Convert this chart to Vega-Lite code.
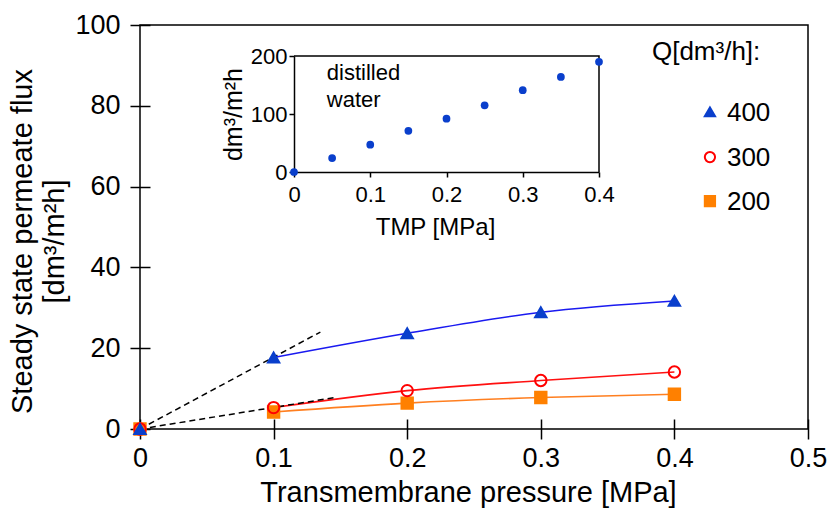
{
  "$schema": "https://vega.github.io/schema/vega-lite/v6.json",
  "width": 668,
  "height": 404,
  "autosize": {"type": "none"},
  "padding": {"left": 140, "top": 25, "right": 23, "bottom": 81},
  "config": {
    "font": "Liberation Sans",
    "view": {"stroke": "black", "strokeWidth": 1.5},
    "axis": {
      "labelColor": "black",
      "titleColor": "black",
      "tickColor": "black",
      "domainColor": "black",
      "titleFontWeight": "normal",
      "grid": false
    }
  },
  "datasets": {
    "flux": [
      {"Q": "200", "TMP": 0, "flux": 0},
      {"Q": "200", "TMP": 0.1, "flux": 4.2},
      {"Q": "200", "TMP": 0.2, "flux": 6.4},
      {"Q": "200", "TMP": 0.3, "flux": 7.8},
      {"Q": "200", "TMP": 0.4, "flux": 8.6},
      {"Q": "300", "TMP": 0, "flux": 0},
      {"Q": "300", "TMP": 0.1, "flux": 5.3},
      {"Q": "300", "TMP": 0.2, "flux": 9.5},
      {"Q": "300", "TMP": 0.3, "flux": 12.0},
      {"Q": "300", "TMP": 0.4, "flux": 14.1},
      {"Q": "400", "TMP": 0, "flux": 0},
      {"Q": "400", "TMP": 0.1, "flux": 17.7},
      {"Q": "400", "TMP": 0.2, "flux": 23.7},
      {"Q": "400", "TMP": 0.3, "flux": 28.9},
      {"Q": "400", "TMP": 0.4, "flux": 31.7}
    ],
    "tangent": [
      {"g": "a", "TMP": 0, "flux": 0},
      {"g": "a", "TMP": 0.135, "flux": 24.0},
      {"g": "b", "TMP": 0, "flux": 0},
      {"g": "b", "TMP": 0.146, "flux": 7.8}
    ],
    "water": [
      {"TMP": 0, "flux": 0},
      {"TMP": 0.05, "flux": 24},
      {"TMP": 0.1, "flux": 47},
      {"TMP": 0.15, "flux": 71},
      {"TMP": 0.2, "flux": 92},
      {"TMP": 0.25, "flux": 115},
      {"TMP": 0.3, "flux": 141},
      {"TMP": 0.35, "flux": 164},
      {"TMP": 0.4, "flux": 190}
    ],
    "frame": [
      {"k": 1, "TMP": 0, "flux": 200},
      {"k": 2, "TMP": 0.4, "flux": 200},
      {"k": 3, "TMP": 0.4, "flux": 0}
    ],
    "note": [{"TMP": 0.043, "flux": 159}],
    "key": [
      {"Q": "400", "TMP": 0.4266, "flux": 78.5},
      {"Q": "300", "TMP": 0.4266, "flux": 67.3},
      {"Q": "200", "TMP": 0.4266, "flux": 56.4}
    ],
    "keytitle": [{"TMP": 0.3832, "flux": 91.3}]
  },
  "layer": [
    {
      "data": {"name": "flux"},
      "transform": [{"filter": "datum.TMP > 0"}],
      "mark": {"type": "line", "interpolate": "monotone", "strokeWidth": 1.6},
      "encoding": {
        "x": {"field": "TMP", "type": "quantitative", "scale": {"domain": [0, 0.5], "nice": false, "zero": false}, "axis": null},
        "y": {"field": "flux", "type": "quantitative", "scale": {"domain": [0, 100], "nice": false, "zero": false}, "axis": null},
        "color": {
          "field": "Q", "type": "nominal",
          "scale": {"domain": ["400", "300", "200"], "range": ["#1a1af0", "#ff1010", "#ff7f20"]},
          "legend": null
        }
      }
    },
    {
      "data": {"name": "tangent"},
      "mark": {"type": "line", "color": "black", "strokeDash": [6, 4], "strokeWidth": 1.5},
      "encoding": {
        "x": {"field": "TMP", "type": "quantitative", "scale": {"domain": [0, 0.5], "nice": false, "zero": false}, "axis": null},
        "y": {"field": "flux", "type": "quantitative", "scale": {"domain": [0, 100], "nice": false, "zero": false}, "axis": null},
        "detail": {"field": "g", "type": "nominal"}
      }
    },
    {
      "data": {"name": "flux"},
      "mark": {"type": "point", "opacity": 1, "strokeWidth": 2, "size": 130},
      "encoding": {
        "x": {
          "field": "TMP", "type": "quantitative",
          "scale": {"domain": [0, 0.5], "nice": false, "zero": false},
          "axis": {
            "orient": "bottom", "values": [0, 0.1, 0.2, 0.3, 0.4, 0.5], "format": "~g",
            "domain": false, "offset": -10, "tickSize": 20, "tickWidth": 1.5,
            "labelFontSize": 27, "labelPadding": 6, "labelFlush": false,
            "title": "Transmembrane pressure [MPa]", "titleFontSize": 29, "titlePadding": 7, "titleX": 328
          }
        },
        "y": {
          "field": "flux", "type": "quantitative",
          "scale": {"domain": [0, 100], "nice": false, "zero": false},
          "axis": {
            "orient": "left", "values": [0, 20, 40, 60, 80, 100],
            "domain": false, "offset": -10, "tickSize": 20, "tickWidth": 1.5,
            "labelFontSize": 27, "labelPadding": 10, "labelFlush": false,
            "title": ["Steady state permeate flux", "[dm³/m²h]"], "titleFontSize": 29, "titleLineHeight": 32,
            "titlePadding": 5, "titleY": 216
          }
        },
        "shape": {
          "field": "Q", "type": "nominal",
          "scale": {"domain": ["400", "300", "200"], "range": ["triangle-up", "circle", "square"]},
          "legend": null
        },
        "fill": {
          "field": "Q", "type": "nominal",
          "scale": {"domain": ["400", "300", "200"], "range": ["#0a3fcc", "transparent", "#ff8000"]},
          "legend": null
        },
        "stroke": {
          "field": "Q", "type": "nominal",
          "scale": {"domain": ["400", "300", "200"], "range": ["#0a3fcc", "#ff0000", "#ff8000"]},
          "legend": null
        }
      }
    },
    {
      "data": {"name": "key"},
      "mark": {"type": "point", "opacity": 1, "strokeWidth": 2, "size": 105},
      "encoding": {
        "x": {"field": "TMP", "type": "quantitative", "scale": {"domain": [0, 0.5], "nice": false, "zero": false}, "axis": null},
        "y": {"field": "flux", "type": "quantitative", "scale": {"domain": [0, 100], "nice": false, "zero": false}, "axis": null},
        "shape": {"field": "Q", "type": "nominal", "legend": null},
        "fill": {"field": "Q", "type": "nominal", "legend": null},
        "stroke": {"field": "Q", "type": "nominal", "legend": null}
      }
    },
    {
      "data": {"name": "key"},
      "mark": {"type": "text", "align": "left", "baseline": "middle", "dx": 17, "dy": 1, "fontSize": 26, "color": "black"},
      "encoding": {
        "x": {"field": "TMP", "type": "quantitative", "scale": {"domain": [0, 0.5], "nice": false, "zero": false}, "axis": null},
        "y": {"field": "flux", "type": "quantitative", "scale": {"domain": [0, 100], "nice": false, "zero": false}, "axis": null},
        "text": {"field": "Q", "type": "nominal"}
      }
    },
    {
      "data": {"name": "keytitle"},
      "mark": {"type": "text", "text": "Q[dm³/h]:", "align": "left", "baseline": "alphabetic", "fontSize": 26, "color": "black"},
      "encoding": {
        "x": {"field": "TMP", "type": "quantitative", "scale": {"domain": [0, 0.5], "nice": false, "zero": false}, "axis": null},
        "y": {"field": "flux", "type": "quantitative", "scale": {"domain": [0, 100], "nice": false, "zero": false}, "axis": null}
      }
    },
    {
      "data": {"name": "frame"},
      "mark": {"type": "line", "color": "black", "strokeWidth": 1.5},
      "encoding": {
        "x": {
          "field": "TMP", "type": "quantitative",
          "scale": {"domain": [0, 0.4], "range": [154, 459], "nice": false, "zero": false},
          "axis": {
            "orient": "bottom", "offset": -257, "values": [0, 0.1, 0.2, 0.3, 0.4], "format": "~g",
            "domainWidth": 1.5, "tickSize": 5, "tickWidth": 1.5, "labelFontSize": 22, "labelPadding": 7,
            "labelFlush": false, "title": "TMP [MPa]", "titleFontSize": 24, "titlePadding": 10, "titleX": 295
          }
        },
        "y": {
          "field": "flux", "type": "quantitative",
          "scale": {"domain": [0, 200], "range": [147, 31], "nice": false, "zero": false},
          "axis": {
            "orient": "left", "offset": -154, "values": [0, 100, 200],
            "domainWidth": 1.5, "tickSize": 5, "tickWidth": 1.5, "labelFontSize": 22, "labelPadding": 2,
            "labelFlush": false, "title": "dm³/m²h", "titleFontSize": 25, "titlePadding": 4
          }
        },
        "order": {"field": "k", "type": "quantitative"}
      }
    },
    {
      "data": {"name": "water"},
      "mark": {"type": "circle", "color": "#0a3fcc", "opacity": 1, "size": 60},
      "encoding": {
        "x": {"field": "TMP", "type": "quantitative", "scale": {"domain": [0, 0.4], "range": [154, 459], "nice": false, "zero": false}, "axis": null},
        "y": {"field": "flux", "type": "quantitative", "scale": {"domain": [0, 200], "range": [147, 31], "nice": false, "zero": false}, "axis": null}
      }
    },
    {
      "data": {"name": "note"},
      "mark": {"type": "text", "text": ["distilled", "water"], "align": "left", "baseline": "alphabetic", "fontSize": 22, "lineHeight": 27, "color": "black"},
      "encoding": {
        "x": {"field": "TMP", "type": "quantitative", "scale": {"domain": [0, 0.4], "range": [154, 459], "nice": false, "zero": false}, "axis": null},
        "y": {"field": "flux", "type": "quantitative", "scale": {"domain": [0, 200], "range": [147, 31], "nice": false, "zero": false}, "axis": null}
      }
    }
  ],
  "resolve": {
    "scale": {"x": "independent", "y": "independent"},
    "axis": {"x": "independent", "y": "independent"}
  }
}
